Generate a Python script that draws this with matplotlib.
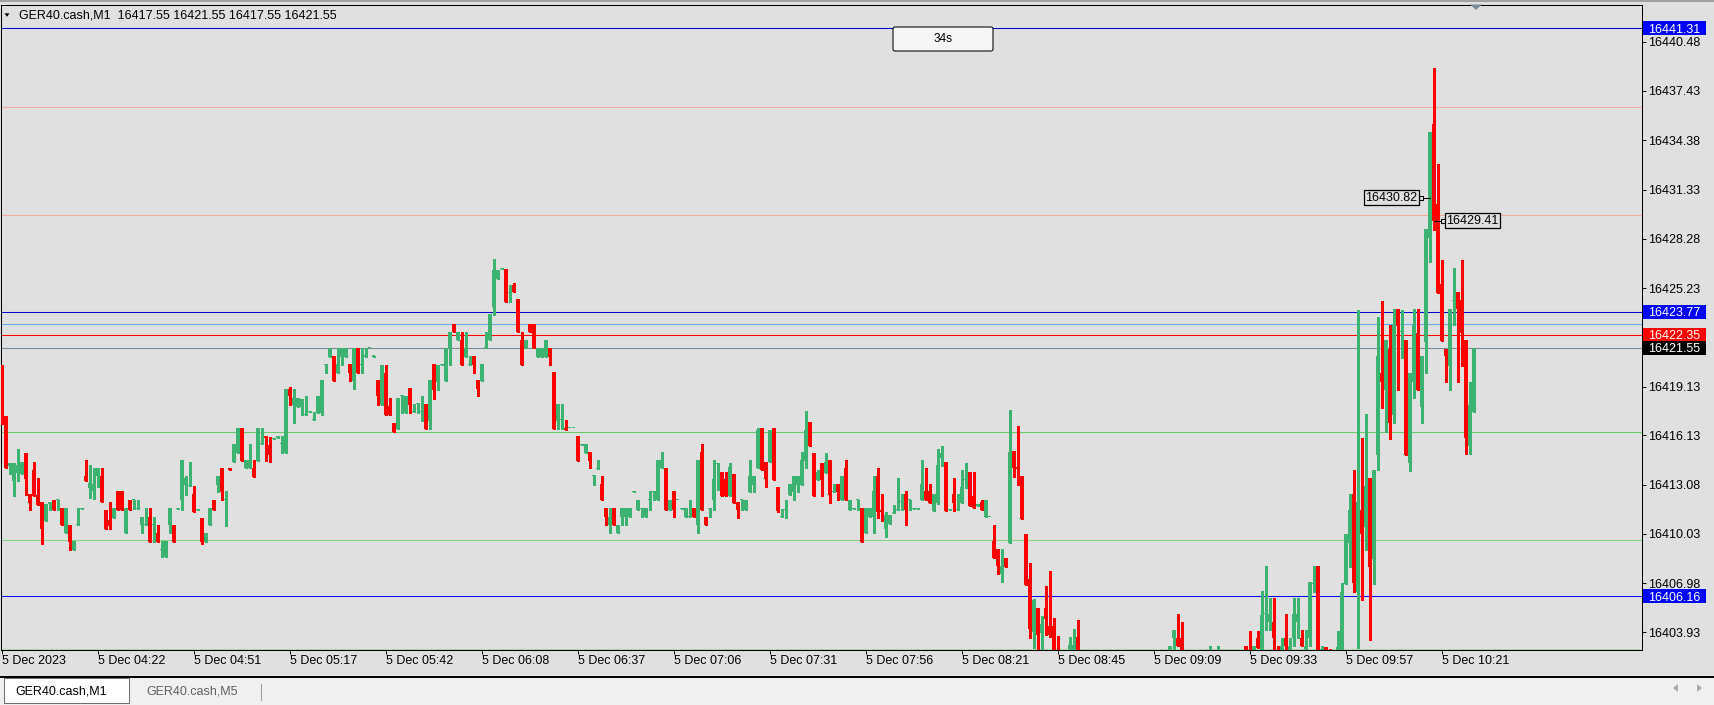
import numpy as np
import matplotlib.pyplot as plt
import matplotlib.transforms as mtransforms
from matplotlib.patches import Rectangle, Polygon, FancyBboxPatch

plt.rcParams['font.family'] = ['Liberation Sans', 'DejaVu Sans']

# M1 bars, prices given as points above BASE, oldest bar first
BASE = 16400.0
opens = [
    20.5, 17.3, 14.25, 13.3, 13.8, 13.75, 15.0, 12.5, 14.0, 12.4,
    12.0, 10.85, 11.9, 12.15, 12.1, 11.6, 10.05, 10.6, 9.05, 10.55,
    11.55, 13.6, 12.85, 12.65, 13.6, 13.6, 11.5, 10.9, 11.0, 12.65,
    12.65, 10.05, 12.15, 12.1, 11.55, 10.55, 10.55, 11.1, 10.55, 10.05,
    9.05, 8.6, 10.55, 10.6, 11.55, 12.1, 13.05, 13.0, 12.5, 11.5,
    11.0, 9.55, 10.55, 12.15, 13.05, 14.1, 12.1, 14.1, 14.45, 15.05,
    16.6, 14.1, 14.1, 14.1, 14.55, 15.6, 16.1, 15.5, 15.9, 15.95,
    15.6, 15.05, 19.0, 18.0, 17.9, 17.9, 17.4, 17.55, 17.05, 17.5,
    17.5, 20.5, 21.0, 21.05, 20.0, 21.0, 21.0, 20.55, 19.5, 21.5,
    20.5, 21.0, 21.5, 21.0, 19.55, 18.0, 20.0, 17.95, 16.9, 16.5,
    18.55, 17.5, 19.05, 17.55, 18.05, 17.55, 18.05, 17.0, 20.55, 19.45,
    20.5, 19.5, 21.5, 23.0, 22.0, 22.05, 21.0, 20.5, 21.05, 19.55,
    19.5, 21.5, 22.0, 24.05, 25.8, 26.4, 26.4, 24.9, 25.45, 24.55,
    22.05, 21.5, 23.0, 23.0, 21.0, 21.0, 21.0, 21.5, 20.05, 17.0,
    17.05, 16.6, 16.55, 16.55, 16.1, 15.55, 15.05, 15.1, 13.6, 14.05,
    13.1, 11.6, 10.55, 11.6, 10.05, 11.05, 11.05, 11.05, 12.6, 11.5,
    11.55, 11.05, 12.1, 12.6, 12.1, 14.1, 14.1, 11.5, 12.65, 12.1,
    11.55, 11.05, 11.05, 11.6, 10.55, 15.1, 11.1, 11.55, 12.1, 14.35,
    13.85, 13.4, 12.35, 13.7, 12.0, 12.1, 11.5, 12.6, 13.05, 14.1,
    16.6, 14.5, 14.45, 16.6, 12.9, 11.05, 11.5, 12.45, 12.6, 13.05,
    13.05, 14.55, 16.95, 15.0, 13.35, 14.4, 13.8, 14.6, 12.6, 13.1,
    12.1, 14.1, 11.5, 11.55, 12.1, 11.6, 10.05, 11.05, 11.05, 13.6,
    11.5, 10.35, 10.65, 11.3, 11.5, 12.0, 12.5, 12.1, 11.55, 11.55,
    12.1, 12.65, 12.65, 11.45, 11.95, 14.75, 14.5, 11.5, 12.5, 11.5,
    11.95, 13.35, 13.85, 12.35, 11.75, 12.0, 11.05, 11.05, 9.6, 9.1,
    7.55, 8.53, 9.48, 15.15, 14.18, 13.6, 10.02, 7.23, 3.98, 5.44,
    3.92, 5.44, 4.33, 4.33, 2.3, 1.8, 1.5, 2.0, 2.5, 3.67,
    2.5, 1.9, 2.2, 1.7, 1.3, 1.8, 2.3, 1.8, 1.5, 1.9,
    2.4, 2.0, 1.6, 2.0, 2.3, 1.9, 1.5, 1.8, 2.2, 2.0,
    2.3, 2.2, 2.6, 3.56, 3.6, 3.6, 2.5, 2.1, 2.3, 1.9,
    2.4, 2.2, 2.2, 2.6, 2.2, 2.6, 2.1, 2.4, 2.0, 2.2,
    2.4, 3.06, 2.8, 2.5, 3.56, 2.5, 5.05, 4.55, 4.59, 2.6,
    2.6, 3.6, 2.6, 3.56, 4.55, 3.6, 2.6, 3.56, 6.95, 8.05,
    2.5, 3.05, 2.8, 2.4, 2.8, 2.7, 6.91, 9.45, 12.48, 6.44,
    11.49, 10.47, 13.48, 8.45, 14.92, 19.99, 18.9, 21.49, 17.39, 23.93,
    22.5, 22.0, 14.43, 19.45, 22.44, 17.88, 21.91, 28.36, 35.4, 30.44,
    25.47, 21.49, 20.42, 24.45, 24.99, 24.47, 22.0, 15.49, 17.55,
]
highs = [
    20.5, 17.3, 14.4, 14.4, 15.3, 14.5, 15.0, 12.5, 14.5, 13.5,
    12.0, 11.9, 12.0, 12.15, 12.15, 11.6, 11.6, 10.6, 9.6, 11.6,
    11.6, 14.6, 14.3, 14.1, 14.1, 14.1, 11.5, 12.0, 11.6, 12.65,
    12.65, 11.6, 12.15, 12.15, 12.15, 11.1, 11.6, 11.6, 11.1, 10.6,
    9.6, 9.6, 11.6, 10.6, 11.6, 14.6, 13.6, 14.5, 13.0, 11.55,
    11.0, 10.05, 11.6, 12.15, 13.6, 14.1, 12.65, 14.1, 15.6, 16.6,
    16.6, 14.6, 15.6, 14.6, 16.6, 16.6, 16.1, 16.0, 15.95, 16.1,
    16.1, 19.0, 19.1, 19.0, 18.45, 18.4, 18.55, 17.6, 17.55, 18.55,
    19.55, 20.55, 21.5, 21.05, 21.5, 21.5, 21.5, 20.55, 21.5, 21.5,
    21.5, 21.5, 21.55, 21.05, 19.55, 20.45, 20.45, 18.45, 16.9, 18.45,
    18.6, 18.55, 19.05, 18.05, 18.1, 18.55, 18.05, 19.55, 20.55, 20.5,
    20.55, 21.5, 22.5, 23.0, 22.5, 22.5, 22.5, 21.05, 21.05, 19.55,
    20.55, 22.5, 23.6, 27.05, 26.35, 26.45, 26.4, 25.45, 25.55, 24.55,
    22.5, 22.05, 23.0, 23.0, 21.5, 21.5, 22.05, 21.5, 20.05, 18.05,
    18.05, 17.05, 16.6, 16.6, 16.1, 15.6, 15.6, 15.1, 13.65, 14.6,
    13.6, 11.6, 11.6, 11.6, 10.6, 11.6, 11.6, 11.6, 12.65, 12.15,
    11.6, 11.6, 12.65, 12.65, 14.6, 15.1, 14.1, 12.15, 12.65, 12.15,
    11.6, 11.6, 12.15, 11.6, 14.6, 15.6, 11.1, 11.6, 14.6, 14.4,
    13.85, 13.85, 14.4, 13.7, 12.0, 12.15, 12.15, 14.6, 13.6, 16.6,
    16.6, 14.5, 16.45, 16.6, 12.9, 11.55, 12.15, 13.1, 13.6, 13.6,
    15.1, 17.6, 16.95, 15.0, 14.0, 14.4, 15.0, 14.6, 13.1, 13.1,
    13.6, 14.6, 12.15, 11.6, 12.15, 11.6, 11.6, 11.6, 13.6, 14.1,
    12.5, 11.35, 11.2, 11.8, 13.5, 12.5, 12.65, 12.15, 11.6, 11.6,
    14.6, 14.1, 13.1, 12.5, 15.3, 15.45, 14.5, 11.55, 13.5, 12.5,
    14.0, 14.4, 13.85, 13.85, 11.9, 12.15, 12.15, 11.1, 10.6, 9.1,
    9.1, 8.53, 17.69, 15.15, 16.7, 13.6, 10.02, 8.2, 6.02, 5.44,
    4.95, 6.8, 7.75, 4.82, 3.7, 2.3, 2.2, 3.67, 4.16, 4.7,
    2.6, 2.4, 2.5, 2.1, 1.9, 2.4, 2.6, 2.2, 2.0, 2.5,
    2.6, 2.3, 2.1, 2.5, 2.6, 2.2, 2.0, 2.4, 2.6, 2.4,
    2.6, 2.6, 3.1, 4.09, 5.08, 4.59, 2.7, 2.4, 2.6, 2.5,
    2.7, 2.6, 3.1, 2.7, 3.1, 2.7, 2.5, 2.6, 2.4, 2.6,
    2.7, 3.06, 4.03, 3.06, 4.03, 6.51, 8.05, 6.07, 6.07, 3.1,
    3.6, 5.08, 3.6, 6.07, 6.07, 4.09, 4.09, 7.06, 8.05, 8.05,
    3.06, 3.05, 2.9, 2.7, 4.0, 6.96, 10.0, 12.48, 13.95, 23.9,
    15.97, 17.46, 13.48, 13.97, 23.45, 24.43, 22.0, 22.98, 23.93, 23.93,
    23.86, 22.0, 19.99, 23.93, 23.93, 21.01, 28.88, 34.92, 38.88, 32.93,
    26.98, 21.49, 23.97, 26.46, 24.99, 26.98, 22.0, 19.45, 21.55,
]
lows = [
    16.8, 14.1, 13.75, 12.35, 13.3, 13.75, 12.45, 11.5, 12.35, 11.8,
    9.4, 10.8, 11.5, 11.5, 11.5, 10.55, 10.05, 9.05, 9.05, 10.55,
    11.55, 13.3, 12.25, 12.2, 12.95, 12.0, 10.35, 10.35, 11.0, 11.5,
    11.5, 10.05, 11.5, 11.55, 11.55, 10.05, 10.55, 9.55, 9.55, 9.55,
    8.6, 8.6, 10.05, 9.55, 11.55, 11.5, 12.45, 13.0, 11.35, 11.5,
    9.4, 9.55, 10.55, 11.5, 12.6, 12.1, 10.5, 13.95, 14.45, 15.05,
    14.55, 14.1, 14.1, 13.55, 14.55, 15.6, 14.55, 14.45, 15.9, 15.95,
    15.05, 15.05, 18.0, 16.9, 17.9, 17.35, 17.4, 17.55, 17.05, 17.5,
    17.4, 20.0, 21.0, 19.5, 20.0, 20.5, 21.0, 19.5, 19.0, 20.0,
    20.0, 21.0, 21.5, 21.0, 18.0, 18.0, 17.4, 17.35, 16.35, 16.5,
    17.5, 17.5, 17.5, 17.55, 17.5, 17.0, 16.5, 16.5, 18.4, 18.95,
    20.5, 19.5, 20.45, 22.5, 22.0, 20.5, 21.0, 20.5, 20.0, 18.55,
    19.5, 21.5, 22.0, 23.55, 25.8, 26.4, 24.4, 24.4, 25.0, 22.5,
    20.5, 21.5, 22.5, 21.5, 21.0, 21.0, 21.0, 20.5, 16.5, 16.5,
    16.5, 16.45, 16.55, 16.55, 14.55, 15.55, 15.05, 14.1, 13.05, 14.05,
    12.1, 10.55, 10.05, 10.55, 10.05, 10.55, 10.55, 11.05, 12.6, 11.5,
    11.05, 11.05, 11.5, 12.1, 12.1, 14.1, 11.5, 11.5, 11.05, 12.1,
    11.55, 11.05, 11.05, 11.05, 10.05, 11.5, 10.55, 11.05, 11.5, 12.75,
    12.35, 12.35, 12.35, 11.95, 11.0, 11.5, 11.5, 12.6, 12.6, 14.1,
    13.95, 12.95, 14.45, 13.35, 11.35, 11.05, 11.0, 12.45, 12.1, 12.6,
    13.05, 14.1, 15.45, 12.35, 13.35, 12.35, 13.8, 11.95, 12.6, 12.1,
    12.1, 12.1, 11.5, 11.55, 11.5, 9.55, 10.05, 11.05, 10.05, 11.0,
    10.85, 9.85, 10.65, 11.3, 11.5, 11.5, 10.55, 11.5, 11.55, 11.55,
    12.1, 12.1, 11.95, 11.45, 11.85, 14.25, 11.45, 11.5, 11.45, 11.5,
    11.95, 12.85, 11.75, 11.65, 11.75, 11.5, 11.05, 11.05, 8.55, 7.55,
    7.05, 8.0, 9.48, 13.56, 13.07, 10.97, 6.88, 3.6, 2.97, 2.5,
    2.5, 3.79, 3.67, 1.9, 1.6, 1.2, 1.0, 2.0, 2.5, 2.2,
    1.6, 1.4, 1.5, 1.0, 0.9, 1.5, 1.6, 1.2, 1.0, 1.7,
    1.8, 1.4, 1.2, 1.8, 1.7, 1.3, 1.1, 1.6, 1.8, 1.5,
    1.9, 1.8, 2.6, 2.6, 3.06, 2.2, 1.9, 1.6, 1.8, 1.7,
    2.0, 1.8, 2.0, 2.1, 2.0, 1.9, 1.6, 1.9, 1.5, 1.8,
    2.1, 2.0, 1.9, 2.2, 2.95, 2.3, 4.09, 4.09, 2.6, 1.8,
    2.4, 2.6, 2.4, 3.06, 3.6, 3.06, 2.4, 3.06, 6.45, 2.4,
    2.2, 2.3, 2.2, 2.0, 2.6, 2.5, 6.91, 7.98, 6.44, 2.96,
    5.92, 9.0, 3.45, 6.94, 13.97, 17.81, 16.32, 15.87, 16.87, 18.93,
    20.9, 14.92, 13.9, 18.45, 18.93, 16.87, 19.95, 26.82, 28.83, 24.9,
    21.96, 19.45, 18.93, 22.98, 19.45, 20.42, 14.97, 14.97, 17.55,
]
closes = [
    17.2, 14.1, 14.4, 14.4, 14.3, 14.5, 13.45, 11.95, 12.35, 11.8,
    10.35, 11.9, 12.0, 11.5, 12.15, 10.55, 11.6, 9.55, 9.6, 10.6,
    11.6, 13.3, 13.2, 13.1, 14.1, 12.0, 10.35, 10.5, 11.6, 11.5,
    11.5, 11.6, 11.5, 12.15, 11.6, 11.1, 10.6, 9.55, 10.6, 9.55,
    9.1, 9.6, 11.6, 9.55, 11.6, 14.6, 13.5, 13.05, 11.35, 11.55,
    9.55, 10.05, 11.6, 11.5, 13.6, 12.6, 12.15, 13.95, 15.6, 16.6,
    14.55, 14.6, 14.6, 13.55, 16.6, 15.65, 15.95, 14.9, 15.95, 16.1,
    15.65, 19.0, 18.55, 18.45, 18.45, 18.4, 17.45, 17.6, 17.1, 18.55,
    19.55, 20.55, 21.5, 19.5, 20.55, 21.5, 21.5, 20.0, 21.5, 20.0,
    20.55, 21.05, 21.55, 21.05, 18.55, 20.45, 17.4, 17.35, 16.35, 18.45,
    18.6, 18.55, 18.0, 17.6, 18.1, 17.6, 16.5, 19.55, 18.95, 20.5,
    20.55, 21.5, 22.5, 22.5, 22.5, 20.5, 21.5, 20.55, 20.5, 19.0,
    20.55, 21.55, 23.6, 26.35, 26.35, 26.45, 24.4, 24.95, 25.0, 22.5,
    20.5, 22.05, 22.5, 21.5, 21.5, 21.5, 22.05, 21.0, 16.5, 18.05,
    17.1, 16.45, 16.6, 16.6, 14.55, 15.6, 15.6, 14.55, 13.65, 14.1,
    12.1, 11.05, 11.1, 10.55, 10.6, 11.6, 11.6, 11.6, 12.65, 12.15,
    11.6, 11.6, 12.15, 12.65, 14.6, 14.6, 11.5, 12.15, 11.5, 12.15,
    11.6, 11.6, 11.1, 11.05, 14.6, 11.5, 10.55, 11.6, 13.4, 14.4,
    12.35, 12.35, 14.15, 11.95, 11.5, 12.15, 12.15, 13.6, 13.6, 16.45,
    13.95, 13.45, 16.45, 13.35, 11.45, 11.1, 11.55, 13.1, 13.6, 13.6,
    14.6, 16.45, 15.45, 12.35, 13.85, 13.35, 14.5, 12.45, 12.65, 12.6,
    13.6, 12.1, 12.15, 11.6, 12.15, 9.55, 11.6, 11.6, 12.65, 11.35,
    11.35, 11.2, 11.2, 11.4, 11.55, 12.05, 11.5, 12.15, 11.6, 11.6,
    13.1, 12.1, 11.95, 12.5, 14.3, 15.0, 11.45, 11.55, 11.95, 11.55,
    12.9, 13.4, 11.75, 11.65, 11.9, 11.5, 12.15, 11.1, 8.55, 8.06,
    8.04, 8.0, 15.09, 14.12, 14.06, 10.97, 6.88, 4.12, 5.94, 3.79,
    4.45, 4.78, 3.79, 2.0, 1.8, 1.5, 2.0, 3.15, 3.15, 2.5,
    1.9, 2.2, 1.7, 1.3, 1.8, 2.3, 1.8, 1.5, 1.9, 2.4,
    2.0, 1.6, 2.0, 2.3, 1.9, 1.5, 1.8, 2.2, 2.0, 2.3,
    2.2, 2.6, 3.1, 4.09, 3.06, 2.5, 2.1, 2.3, 1.9, 2.4,
    2.2, 2.5, 2.6, 2.3, 2.6, 2.1, 2.4, 2.0, 2.2, 2.5,
    2.6, 2.5, 2.3, 3.06, 2.95, 5.02, 5.1, 5.08, 3.56, 2.0,
    3.1, 3.06, 3.1, 5.08, 5.08, 3.06, 3.1, 7.06, 7.0, 2.5,
    2.9, 2.8, 2.4, 2.6, 3.0, 6.44, 10.0, 11.49, 6.96, 11.98,
    9.99, 12.98, 7.98, 13.97, 21.01, 19.45, 22.0, 16.87, 22.98, 22.91,
    22.55, 14.92, 19.99, 22.98, 18.93, 21.01, 28.88, 34.92, 29.41, 24.9,
    21.96, 21.01, 23.97, 24.5, 23.93, 22.44, 15.97, 17.98, 21.55,
]

xtick_bars = list(range(0, 361, 24))
xtick_labels = ['5 Dec 2023', '5 Dec 04:22', '5 Dec 04:51', '5 Dec 05:17',
                '5 Dec 05:42', '5 Dec 06:08', '5 Dec 06:37', '5 Dec 07:06',
                '5 Dec 07:31', '5 Dec 07:56', '5 Dec 08:21', '5 Dec 08:45',
                '5 Dec 09:09', '5 Dec 09:33', '5 Dec 09:57', '5 Dec 10:21']
ytick_values = [16403.93, 16406.98, 16410.03, 16413.08, 16416.13, 16419.13,
                16422.18, 16425.23, 16428.28, 16431.33, 16434.38, 16437.43,
                16440.48]

# horizontal levels drawn across the chart
level_prices = [16441.31, 16436.42, 16429.74, 16423.77, 16423.01, 16422.35,
                16421.55, 16416.31, 16409.63, 16406.16, 16402.90]
level_colors = ['#0000c8', '#f2ac9c', '#f2ac9c', '#0000c8', '#64a8f0', '#ff0000',
                '#778899', '#66cc66', '#80d880', '#0000ff', '#a8dca8']

# price tags on the right scale
tag_prices = [16441.31, 16423.77, 16422.35, 16421.55, 16406.16]
tag_colors = ['#0000ff', '#0000ff', '#ff0000', '#000000', '#0000ff']

# trade markers
trade_bars = [357, 358]
trade_prices = [16430.82, 16429.41]

header = 'GER40.cash,M1  16417.55 16421.55 16417.55 16421.55'
countdown = '34s'

W, H = 1714, 705
BG = '#e0e0e0'
GREEN = '#3cb371'
RED = '#ff0000'

o = BASE + np.array(opens)
h = BASE + np.array(highs)
l = BASE + np.array(lows)
c = BASE + np.array(closes)
x = np.arange(len(c))

fig = plt.figure(figsize=(W / 100, H / 100), dpi=100, facecolor=BG)
ax = fig.add_axes([1 / W, 55 / H, 1641 / W, 645 / H])
ax.set_facecolor(BG)
ax.set_xlim(-0.175, 410.075)
ax.set_ylim(16402.84, 16442.75)
ppu = 645 / (16442.75 - 16402.84)  # pixels per point

for p, col in zip(level_prices, level_colors):
    ax.axhline(p, color=col, lw=0.75, zorder=1)

# candles
cols = np.where(c >= o, GREEN, RED)
ax.vlines(x, l, h, colors=cols, lw=0.75, zorder=3, antialiased=False)
ax.bar(x, np.maximum(np.abs(c - o), 1.05 / ppu), bottom=np.minimum(o, c),
       width=0.75, color=cols, linewidth=0, zorder=4, antialiased=False)

# trade labels
for b, p, d in zip(trade_bars, trade_prices, [-2.3, 2.3]):
    end = b + d
    ax.plot([b, end], [p, p], color='black', lw=0.75, zorder=6)
    ax.plot(end, p, marker='s', ms=2.6, mfc=BG, mec='black', mew=0.75, zorder=7)
    ax.text(end - 0.8 if d < 0 else end + 0.8, p, f'{p:.2f}',
            ha='right' if d < 0 else 'left', va='center', fontsize=9, zorder=8,
            bbox=dict(boxstyle='square,pad=0.12', fc=BG, ec='black', lw=0.9))

# axes styling
for s in ax.spines.values():
    s.set_linewidth(0.75)
    s.set_color('black')
ax.yaxis.tick_right()
ax.set_yticks(ytick_values)
ax.set_yticklabels([f'{v:.2f}' for v in ytick_values])
ax.tick_params(axis='y', direction='out', length=2.9, width=0.75, pad=1.44,
               labelsize=9, colors='black')
ax.set_xticks(xtick_bars)
ax.set_xticklabels(xtick_labels, ha='left')
ax.tick_params(axis='x', direction='out', length=2.9, width=0.75, pad=1.0,
               labelsize=9, colors='black')

trans = mtransforms.blended_transform_factory(ax.transAxes, ax.transData)
for p, col in zip(tag_prices, tag_colors):
    ax.add_patch(Rectangle((1642 / 1641, p - 7 / ppu), 63 / 1641, 14 / ppu,
                           transform=trans, clip_on=False, fc=col, ec='none', zorder=10))
    ax.text(1647 / 1641, p, f'{p:.2f}', transform=trans, color='white',
            fontsize=9, va='center_baseline', ha='left', zorder=11, clip_on=False)

# window chrome in pixel coordinates
ov = fig.add_axes([0, 0, 1, 1], zorder=5)
ov.set_xlim(0, W)
ov.set_ylim(H, 0)
ov.axis('off')

ov.add_patch(Rectangle((0, 0), W, 2, fc='#a0a0a0', ec='none'))
ov.add_patch(Polygon([(4.5, 13.3), (9.5, 13.3), (7, 16.8)], closed=True, fc='black', ec='none'))
ov.text(19, 15.5, header, fontsize=9, va='center', ha='left', color='black')

ov.add_patch(FancyBboxPatch((893, 27), 100, 24, boxstyle='round,pad=0,rounding_size=2',
                            fc='#f6f6f6', ec='black', lw=0.75))
ov.text(943, 39.5, countdown, fontsize=8.5, ha='center', va='center', color='black')
ov.add_patch(Polygon([(1470, 4.5), (1482, 4.5), (1476, 10)], closed=True,
                     fc='#7a8b9c', ec='none'))

# tab bar
ov.add_patch(Rectangle((0, 677), W, 28, fc='#f0f0f0', ec='none'))
ov.add_patch(Rectangle((0, 676.3), W, 1.4, fc='black', ec='none'))
ov.add_patch(Rectangle((4, 677.5), 125, 25, fc='white', ec='#707070', lw=0.75))
ov.text(15, 691, 'GER40.cash,M1', fontsize=9, va='center', ha='left', color='black')
ov.text(146, 691, 'GER40.cash,M5', fontsize=9, va='center', ha='left', color='#606060')
ov.plot([261, 261], [684, 700], color='#a0a0a0', lw=0.75)
ov.add_patch(Polygon([(1673, 688), (1678, 684), (1678, 692)], closed=True,
                     fc='#a8a8a8', ec='none'))
ov.add_patch(Polygon([(1702, 688), (1697, 684), (1697, 692)], closed=True,
                     fc='#a8a8a8', ec='none'))

fig.savefig('out.png', dpi=100, facecolor=BG)
